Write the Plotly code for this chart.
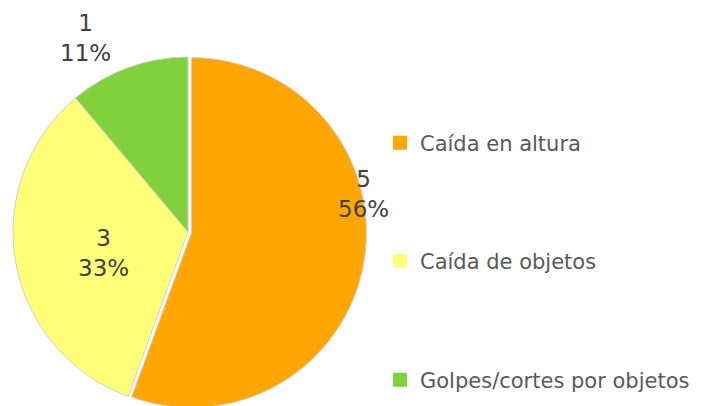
import plotly.graph_objects as go

# causes of accidents (count of cases)
labels = ["Caída en altura", "Caída de objetos", "Golpes/cortes por objetos"]
values = [5, 3, 1]
colors = ["#FFA602", "#FFFF78", "#80D13C"]
pull = [0.02, 0, 0]

W, H = 702, 406
OFF = 8  # the page body adds an 8px margin, so work in shifted pixels


def px_x(x):
    return (x - OFF) / W


def px_y(y):
    return 1 - (y - OFF) / H


# label centres (reference pixels), same order as labels
label_pos = [(363, 194), (103, 253), (85, 38)]
# legend entry centres (reference pixels)
legend_y = [143, 261, 380]

total = sum(values)
cx, cy, r = 188, 232, 175
half = r * (1 + max(pull))

fig = go.Figure(
    go.Pie(
        labels=labels,
        values=values,
        sort=False,
        direction="clockwise",
        rotation=0,
        pull=pull,
        marker=dict(colors=colors, line=dict(color="#d0d0d0", width=1)),
        textinfo="none",
        hoverinfo="skip",
        showlegend=False,
        domain=dict(x=[px_x(cx - half), px_x(cx + half)],
                    y=[px_y(cy + half), px_y(cy - half)]),
    )
)

# one legend per entry so the entries can sit as far apart as in the original
for i, (name, col) in enumerate(zip(labels, colors)):
    lg = "legend" if i == 0 else f"legend{i + 1}"
    fig.add_trace(
        go.Scatter(
            x=[None], y=[None], mode="markers", name=name,
            marker=dict(symbol="square", size=14, color=col),
            legend=lg, hoverinfo="skip",
        )
    )
    fig.update_layout({
        lg: dict(
            x=px_x(380), y=px_y(legend_y[i]),
            xanchor="left", yanchor="middle",
            font=dict(family="DejaVu Sans", size=21, color="#595959"),
            bgcolor="rgba(0,0,0,0)", itemwidth=30,
        )
    })

for v, (lx, ly) in zip(values, label_pos):
    fig.add_annotation(
        x=px_x(lx), y=px_y(ly), xref="paper", yref="paper",
        xanchor="center", yanchor="middle",
        text=f"{v}<br>{round(100 * v / total)}%",
        showarrow=False,
        font=dict(family="DejaVu Sans", size=23, color="#404040"),
    )

fig.update_layout(
    width=W,
    height=H,
    margin=dict(l=0, r=0, t=0, b=0),
    paper_bgcolor="white",
    plot_bgcolor="white",
    showlegend=True,
    xaxis=dict(visible=False),
    yaxis=dict(visible=False),
)

fig.write_html("out.html")
